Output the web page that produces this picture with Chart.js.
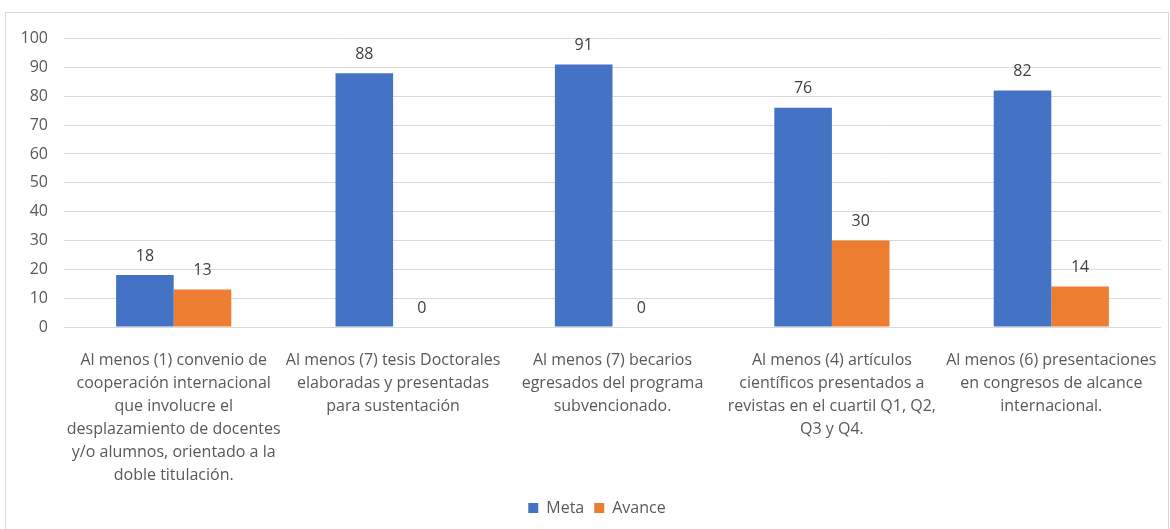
<!DOCTYPE html>
<html>
<head>
  <meta charset="utf-8">
  <script src="https://cdn.jsdelivr.net/npm/chart.js@4/dist/chart.umd.min.js"></script>
  <style>
    body {
      margin: 0;
      background: white;
    }
    .chart-box {
      position: absolute;
      left: 5px;
      top: 12px;
      width: 1162px;
      height: 520px;
      border: 1px solid #d9d9d9;
      background: white;
    }
    .chart-container {
      position: relative;
      width: 1162px;
      height: 513px;
    }
  </style>
</head>
<body>
  <div class="chart-box">
    <div class="chart-container">
      <canvas id="metaChart"></canvas>
    </div>
  </div>

  <script>
    const categories = [
      ['Al menos (1) convenio de', 'cooperación internacional', 'que involucre el', 'desplazamiento de docentes', 'y/o alumnos, orientado a la', 'doble titulación.'],
      ['Al menos (7) tesis Doctorales', 'elaboradas y presentadas', 'para sustentación'],
      ['Al menos (7) becarios', 'egresados del programa', 'subvencionado.'],
      ['Al menos (4) artículos', 'científicos presentados a', 'revistas en el cuartil Q1, Q2,', 'Q3 y Q4.'],
      ['Al menos (6) presentaciones', 'en congresos de alcance', 'internacional.']
    ];
    const metaValues = [18, 88, 91, 76, 82];
    const avanceValues = [13, 0, 0, 30, 14];
    const yTicks = [0, 10, 20, 30, 40, 50, 60, 70, 80, 90, 100];

    const fontFamily = '"Open Sans", Lato, sans-serif';

    // draws the value above each bar
    const valueLabels = {
      id: 'valueLabels',
      afterDatasetsDraw(chart) {
        const ctx = chart.ctx;
        ctx.save();
        ctx.font = '16px ' + fontFamily;
        ctx.fillStyle = '#404040';
        ctx.textAlign = 'center';
        ctx.textBaseline = 'middle';
        chart.data.datasets.forEach((ds, i) => {
          chart.getDatasetMeta(i).data.forEach((bar, j) => {
            ctx.fillText(ds.data[j], bar.x, bar.y - 19);
          });
        });
        ctx.restore();
      }
    };

    // the original legend sits a bit right of the canvas centre
    const legendShift = {
      id: 'legendShift',
      afterLayout(chart) {
        if (chart.legend) chart.legend.left += 27;
      }
    };

    const ctx = document.getElementById('metaChart').getContext('2d');
    new Chart(ctx, {
      type: 'bar',
      data: {
        labels: categories,
        datasets: [
          {label: 'Meta', data: metaValues, backgroundColor: '#4472C4'},
          {label: 'Avance', data: avanceValues, backgroundColor: '#ED7D31'}
        ]
      },
      plugins: [valueLabels, legendShift],
      options: {
        responsive: true,
        maintainAspectRatio: false,
        animation: false,
        layout: {
          padding: {top: 23, right: 7, left: 0, bottom: 0}
        },
        datasets: {
          bar: {
            categoryPercentage: 0.525,
            barPercentage: 1
          }
        },
        scales: {
          x: {
            grid: {display: false},
            border: {display: false},
            ticks: {
              color: '#595959',
              font: {family: fontFamily, size: 16, lineHeight: '23px'},
              padding: 14,
              maxRotation: 0,
              autoSkip: false
            },
            afterFit(scale) {
              scale.height = 163;
              // long wrapped labels shouldn't squeeze the plot
              scale.paddingLeft = 0;
              scale.paddingRight = 0;
            }
          },
          y: {
            min: 0,
            max: 100,
            afterBuildTicks(scale) {
              scale.ticks = yTicks.map(v => ({value: v}));
            },
            grid: {
              color: '#d9d9d9',
              lineWidth: 1,
              drawTicks: false
            },
            border: {display: false},
            ticks: {
              color: '#595959',
              font: {family: fontFamily, size: 16},
              padding: 16
            },
            afterFit(scale) {
              scale.width = 58;
            }
          }
        },
        plugins: {
          legend: {
            position: 'bottom',
            labels: {
              boxWidth: 10,
              boxHeight: 10,
              color: '#595959',
              font: {family: fontFamily, size: 16},
              padding: 10
            }
          },
          tooltip: {enabled: false}
        }
      }
    });
  </script>
</body>
</html>
